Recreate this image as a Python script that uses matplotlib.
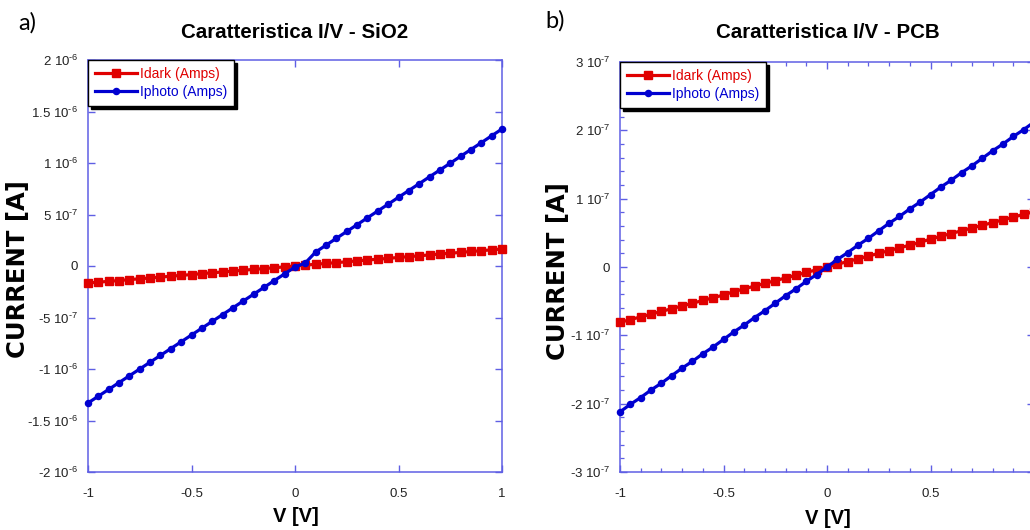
import matplotlib
matplotlib.use("Agg")
import matplotlib.pyplot as plt
from matplotlib.ticker import FixedLocator, MultipleLocator

plt.rcParams['font.family'] = ['Liberation Sans', 'DejaVu Sans']
plt.rcParams['mathtext.fontset'] = 'custom'
plt.rcParams['mathtext.rm'] = 'Liberation Sans'
plt.rcParams['mathtext.default'] = 'regular'
plt.rcParams['axes.unicode_minus'] = False

# ---------------- data ----------------
V = [-1.0, -0.95, -0.9, -0.85, -0.8, -0.75, -0.7, -0.65, -0.6, -0.55, -0.5,
     -0.45, -0.4, -0.35, -0.3, -0.25, -0.2, -0.15, -0.1, -0.05, 0.0,
     0.05, 0.1, 0.15, 0.2, 0.25, 0.3, 0.35, 0.4, 0.45, 0.5,
     0.55, 0.6, 0.65, 0.7, 0.75, 0.8, 0.85, 0.9, 0.95, 1.0]

# panel a) SiO2, values in units of 1e-7 A
sio2_idark = [-1.65, -1.57, -1.49, -1.41, -1.32, -1.24, -1.16, -1.08, -0.99, -0.91, -0.83,
              -0.74, -0.66, -0.58, -0.50, -0.41, -0.33, -0.25, -0.17, -0.08, 0.0,
              0.08, 0.17, 0.25, 0.33, 0.41, 0.50, 0.58, 0.66, 0.74, 0.83,
              0.91, 0.99, 1.08, 1.16, 1.24, 1.32, 1.41, 1.49, 1.57, 1.65]
sio2_iphoto = [-13.30, -12.64, -11.98, -11.32, -10.66, -10.00, -9.34, -8.68, -8.02, -7.36, -6.70,
               -6.04, -5.38, -4.72, -4.06, -3.40, -2.74, -2.08, -1.42, -0.76, -0.10,
               0.30, 1.36, 2.02, 2.69, 3.35, 4.01, 4.68, 5.34, 6.00, 6.67,
               7.33, 7.99, 8.66, 9.32, 9.98, 10.65, 11.31, 11.97, 12.64, 13.30]

# panel b) PCB, values in units of 1e-7 A
pcb_idark = [-0.81, -0.77, -0.73, -0.69, -0.65, -0.61, -0.57, -0.53, -0.49, -0.45, -0.41,
             -0.36, -0.32, -0.28, -0.24, -0.20, -0.16, -0.12, -0.08, -0.04, 0.0,
             0.04, 0.08, 0.12, 0.16, 0.20, 0.24, 0.28, 0.32, 0.36, 0.41,
             0.45, 0.49, 0.53, 0.57, 0.61, 0.65, 0.69, 0.73, 0.77, 0.81]
pcb_iphoto = [-2.12, -2.01, -1.91, -1.80, -1.70, -1.59, -1.48, -1.38, -1.27, -1.17, -1.06,
              -0.95, -0.85, -0.74, -0.64, -0.53, -0.42, -0.32, -0.21, -0.11, 0.0,
              0.11, 0.21, 0.32, 0.42, 0.53, 0.64, 0.74, 0.85, 0.95, 1.06,
              1.17, 1.27, 1.38, 1.48, 1.59, 1.70, 1.80, 1.91, 2.01, 2.12]

x_ticks = [-1, -0.5, 0, 0.5, 1]
sio2_xticklabels = ['-1', '-0.5', '0', '0.5', '1']
pcb_xticklabels = ['-1', '-0.5', '0', '0.5', '']   # last label is cropped off in the original

E6 = r' 10$^{\text{-6}}$'
E7 = r' 10$^{\text{-7}}$'
sio2_yticks = [-2e-6, -1.5e-6, -1e-6, -5e-7, 0, 5e-7, 1e-6, 1.5e-6, 2e-6]
sio2_yticklabels = ['-2' + E6, '-1.5' + E6, '-1' + E6, '-5' + E7, '0',
                    '5' + E7, '1' + E6, '1.5' + E6, '2' + E6]
pcb_yticks = [-3e-7, -2e-7, -1e-7, 0, 1e-7, 2e-7, 3e-7]
pcb_yticklabels = ['-3' + E7, '-2' + E7, '-1' + E7, '0', '1' + E7, '2' + E7, '3' + E7]

titles = ['Caratteristica I/V - SiO2', 'Caratteristica I/V - PCB']
labels = ['Idark (Amps)', 'Iphoto (Amps)']

RED = '#e00000'
BLUE = '#0000d0'
SPINE = '#5f5fe4'

W, H = 1030, 530
fig = plt.figure(figsize=(W / 100, H / 100), dpi=100)


def px_axes(x0, y0, x1, y1):
    return fig.add_axes([x0 / W, 1 - y1 / H, (x1 - x0) / W, (y1 - y0) / H])


def style(ax, xticklabels, yticks, yticklabels, ylim, minor_x=None, minor_y=None):
    ax.set_xlim(-1, 1)
    ax.set_ylim(*ylim)
    ax.xaxis.set_major_locator(FixedLocator(x_ticks))
    ax.set_xticklabels(xticklabels)
    ax.yaxis.set_major_locator(FixedLocator(yticks))
    ax.set_yticklabels(yticklabels)
    if minor_x:
        ax.xaxis.set_minor_locator(MultipleLocator(minor_x))
    if minor_y:
        ax.yaxis.set_minor_locator(MultipleLocator(minor_y))
    for s in ax.spines.values():
        s.set_color(SPINE)
        s.set_linewidth(1.1)
    ax.tick_params(which='major', direction='in', length=5, width=1.0, color=SPINE,
                   top=True, right=True, labelsize=9.5, labelcolor='#222222')
    ax.tick_params(which='minor', direction='in', length=3, width=0.9, color=SPINE,
                   top=True, right=True)
    ax.tick_params(axis='x', which='major', pad=11.5)
    ax.tick_params(axis='y', which='major', pad=7)


def plot(ax, idark, iphoto):
    ax.plot(V, [v * 1e-7 for v in idark], color=RED, lw=2.3, marker='s', ms=5.4,
            mec=RED, mfc=RED, label=labels[0], clip_on=False, zorder=3)
    ax.plot(V, [v * 1e-7 for v in iphoto], color=BLUE, lw=2.3, marker='o', ms=4.4,
            mec=BLUE, mfc=BLUE, label=labels[1], clip_on=False, zorder=4)
    leg = ax.legend(loc='upper left', bbox_to_anchor=(0, 1), borderaxespad=0,
                    fontsize=10, handlelength=3.0, handletextpad=0.25, borderpad=0.5,
                    labelspacing=0.3, fancybox=False, framealpha=1,
                    edgecolor='black', labelcolor='linecolor',
                    shadow={'color': 'black', 'alpha': 1.0})
    leg.get_frame().set_linewidth(1.0)
    leg.set_zorder(10)


# panel a
ax1 = px_axes(88, 60, 502, 472)
plot(ax1, sio2_idark, sio2_iphoto)
style(ax1, sio2_xticklabels, sio2_yticks, sio2_yticklabels, (-2e-6, 2e-6))

# panel b (cropped on the right)
ax2 = px_axes(620, 62, 1034, 472)
plot(ax2, pcb_idark, pcb_iphoto)
style(ax2, pcb_xticklabels, pcb_yticks, pcb_yticklabels, (-3e-7, 3e-7),
      minor_x=0.1, minor_y=0.2e-7)

# titles / labels
fig.text(295 / W, 1 - 33 / H, titles[0], ha='center', va='center',
         fontsize=14.8, fontweight='bold')
fig.text(828 / W, 1 - 33 / H, titles[1], ha='center', va='center',
         fontsize=14.8, fontweight='bold')
for xc, yc in [(18, 269), (558, 271)]:
    fig.text(xc / W, 1 - yc / H, 'CURRENT [A]', rotation=90, ha='center', va='center',
             fontsize=17.5, fontweight='bold', family=['DejaVu Sans'])
fig.text(296 / W, 1 - 516 / H, 'V [V]', ha='center', va='center',
         fontsize=14.5, fontweight='bold')
fig.text(828 / W, 1 - 519 / H, 'V [V]', ha='center', va='center',
         fontsize=14.5, fontweight='bold')
fig.text(27 / W, 1 - 23 / H, 'a)', ha='center', va='center', fontsize=17,
         family=['Lato', 'DejaVu Sans'])
fig.text(555 / W, 1 - 21 / H, 'b)', ha='center', va='center', fontsize=17,
         family=['Lato', 'DejaVu Sans'])

fig.savefig('out.png', dpi=100)
